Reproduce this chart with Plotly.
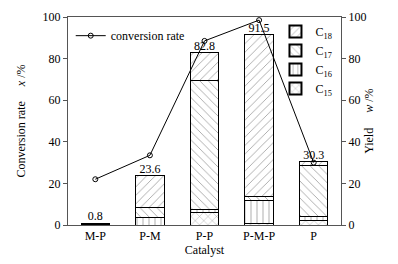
import plotly.graph_objects as go

catalysts = ["M-P", "P-M", "P-P", "P-M-P", "P"]
conversion = [22.0, 33.5, 88.5, 98.5, 30.0]
c15 = [0.3, 0.0, 6.2, 0.8, 2.4]
c16 = [0.2, 3.8, 1.4, 11.2, 1.6]
c17 = [0.2, 4.5, 62.1, 1.6, 24.8]
c18 = [0.1, 15.3, 13.1, 77.9, 1.5]
totals = [0.8, 23.6, 82.8, 91.5, 30.3]
total_labels = ["0.8", "23.6", "82.8", "91.5", "30.3"]

FONT = "Liberation Serif, Times New Roman, serif"
F12 = dict(family=FONT, size=12, color="black")
fig = go.Figure()

series = [("C<sub>15</sub>", c15, "x"), ("C<sub>16</sub>", c16, "|"),
          ("C<sub>17</sub>", c17, "\\"), ("C<sub>18</sub>", c18, "/")]
for name, vals, shp in series:
    fig.add_trace(go.Bar(
        x=catalysts, y=vals, name=name, width=0.52,
        marker=dict(color="white", line=dict(color="black", width=1),
                    pattern=dict(shape=shp, fgcolor="#222", bgcolor="white",
                                 size=6, solidity=0.12)),
        legend="legend2"))

fig.add_trace(go.Scatter(
    x=catalysts, y=totals, mode="text", text=total_labels,
    textposition="top center", textfont=F12,
    showlegend=False, hoverinfo="skip", cliponaxis=False))

fig.add_trace(go.Scatter(
    x=catalysts, y=conversion, mode="lines+markers", name="conversion rate",
    line=dict(color="black", width=1),
    marker=dict(symbol="circle-open", size=5, color="black", line=dict(width=1)),
    legend="legend", cliponaxis=False))

fig.add_trace(go.Scatter(
    x=catalysts, y=totals, yaxis="y2", mode="markers",
    marker=dict(opacity=0), showlegend=False, hoverinfo="skip"))

fig.update_layout(
    width=398, height=264,
    margin=dict(l=68, r=57, t=17, b=39),
    paper_bgcolor="white", plot_bgcolor="white",
    font=F12,
    barmode="stack",
    xaxis=dict(showline=True, linecolor="#555", linewidth=1, mirror=True,
               ticks="", tickfont=F12, automargin=False,
               title=dict(text="Catalyst", font=F12, standoff=0)),
    yaxis=dict(range=[0, 100], dtick=20, showline=True, linecolor="#555",
               linewidth=1, ticks="outside", ticklen=4, tickcolor="#555",
               showgrid=False, zeroline=False, tickfont=F12, automargin=False,
               title=dict(text="Conversion rate     <i>x</i> /%", font=F12,
                          standoff=14)),
    yaxis2=dict(range=[0, 100], dtick=20, overlaying="y", side="right",
                showline=True, linecolor="#555", linewidth=1, ticks="outside",
                ticklen=4, tickcolor="#555", showgrid=False, zeroline=False,
                tickfont=F12, automargin=False),
    annotations=[dict(text="Yield     <i>w</i> /%", textangle=-90, xref="paper",
                      yref="paper", x=1.135, y=0.5, showarrow=False, font=F12)],
    legend=dict(x=0.01, y=0.98, xanchor="left", yanchor="top",
                bgcolor="rgba(0,0,0,0)", font=F12),
    legend2=dict(x=0.76, y=1.0, xanchor="left", yanchor="top",
                 traceorder="reversed", bgcolor="rgba(0,0,0,0)",
                 font=F12, itemsizing="constant", tracegroupgap=4),
)

fig.write_html("out.html", config={"displayModeBar": False},
               post_script="document.body.style.margin='0';")
